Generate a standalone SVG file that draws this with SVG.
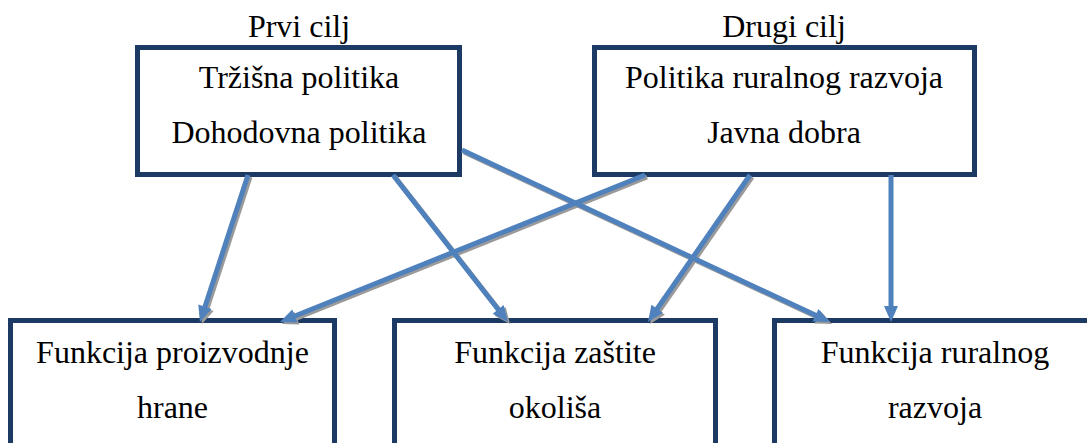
<svg xmlns="http://www.w3.org/2000/svg" width="1087" height="443" viewBox="0 0 1087 443">
<style>
.box{fill:#fff;stroke:#1c3a64;stroke-width:5}
.t{font-size:32px;fill:#000;text-anchor:middle}
.ar{fill:none;stroke:#4f81bd;stroke-width:5}
.sh{fill:none;stroke:#9a9a9a;stroke-width:5}
</style>
<defs>
<marker id="ah" markerUnits="userSpaceOnUse" markerWidth="16" markerHeight="14" refX="2" refY="7" orient="auto" overflow="visible"><path d="M0,0 L16,7 L0,14 Z" fill="#4f81bd"/></marker>
<marker id="ahs" markerUnits="userSpaceOnUse" markerWidth="16" markerHeight="14" refX="2" refY="7" orient="auto" overflow="visible"><path d="M0,0 L16,7 L0,14 Z" fill="#9a9a9a"/></marker>
</defs>
<rect width="1087" height="443" fill="#fff"/>
<g font-family="'Liberation Serif', 'DejaVu Serif', serif">
<g id="label-prvi"><text class="t" x="299" y="37">Prvi cilj</text></g>
<g id="label-drugi"><text class="t" x="784" y="37">Drugi cilj</text></g>
<g id="n-prvi">
<rect class="box" x="137.5" y="47.5" width="322" height="127"/>
<text class="t" x="299" y="88">Tržišna politika</text>
<text class="t" x="299" y="143">Dohodovna politika</text>
</g>
<g id="n-drugi">
<rect class="box" x="594.5" y="47.5" width="380" height="127"/>
<text class="t" x="784" y="88">Politika ruralnog razvoja</text>
<text class="t" x="784" y="143">Javna dobra</text>
</g>
<g id="n-hrana">
<rect class="box" x="10.5" y="320.5" width="324" height="140"/>
<text class="t" x="172.5" y="363">Funkcija proizvodnje</text>
<text class="t" x="172.5" y="418">hrane</text>
</g>
<g id="n-okolis">
<rect class="box" x="394.5" y="320.5" width="321" height="140"/>
<text class="t" x="555" y="363">Funkcija zaštite</text>
<text class="t" x="555" y="418">okoliša</text>
</g>
<g id="n-ruralni">
<rect class="box" x="774.5" y="320.5" width="330" height="140"/>
<text class="t" x="935" y="363">Funkcija ruralnog</text>
<text class="t" x="935" y="418">razvoja</text>
</g>
</g>
<g id="connectors">
<g transform="translate(2,2)">
<line class="sh" x1="248" y1="175" x2="204.3" y2="308.7" marker-end="url(#ahs)"/>
<line class="sh" x1="393" y1="175" x2="499.4" y2="311" marker-end="url(#ahs)"/>
<line class="sh" x1="462" y1="150" x2="817.3" y2="316.1" marker-end="url(#ahs)"/>
<line class="sh" x1="645" y1="175" x2="293" y2="316.8" marker-end="url(#ahs)"/>
<line class="sh" x1="750" y1="175" x2="656" y2="310.5" marker-end="url(#ahs)"/>
</g>
<line class="ar" x1="248" y1="175" x2="204.3" y2="308.7" marker-end="url(#ah)"/>
<line class="ar" x1="393" y1="175" x2="499.4" y2="311" marker-end="url(#ah)"/>
<line class="ar" x1="462" y1="150" x2="817.3" y2="316.1" marker-end="url(#ah)"/>
<line class="ar" x1="645" y1="175" x2="293" y2="316.8" marker-end="url(#ah)"/>
<line class="ar" x1="750" y1="175" x2="656" y2="310.5" marker-end="url(#ah)"/>
<line class="ar" x1="891" y1="175" x2="891" y2="308" marker-end="url(#ah)"/>
</g>
</svg>
